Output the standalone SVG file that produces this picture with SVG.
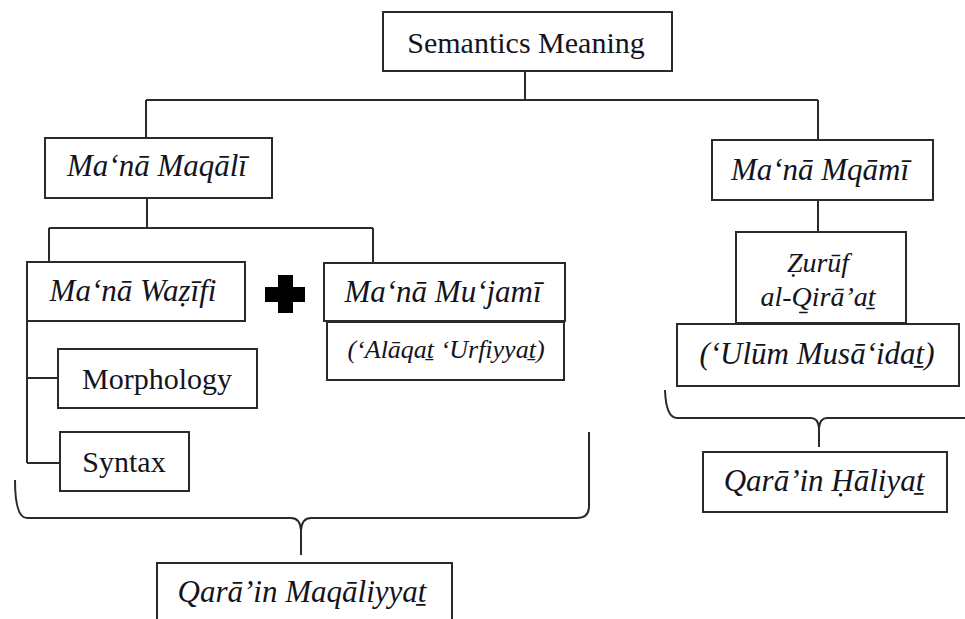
<svg xmlns="http://www.w3.org/2000/svg" width="965" height="619" viewBox="0 0 965 619">
<style>
.box{fill:#fff;stroke:#2a2a2a;stroke-width:2}
.t{font-family:"Liberation Serif","Times New Roman",serif;font-size:30px;fill:#141420;text-anchor:middle}
.i{font-style:italic;font-size:31px}
.s{font-size:26px}
.z{font-size:28px}
.c{fill:none;stroke:#2a2a2a;stroke-width:2}
</style>
<rect width="965" height="619" fill="#fff"/>
<g id="connectors">
<path class="c" d="M525,71 V100 M146,100 H818 M146,100 V138 M818,100 V140"/>
<path class="c" d="M147,198 V228 M49,228 H373 M49,228 V262 M373,228 V263"/>
<path class="c" d="M818,200 V232"/>
<path class="c" d="M27,321 V463 M27,378 H58 M27,463 H60"/>
<path class="c" d="M15,480 Q15,518 27,518 L291,518 Q300,518 301,530 L301,555 M589,432 L589,506 Q589,518 577,518 L311,518 Q302,518 301,530"/>
<path class="c" d="M665,390 Q666,418 677,418 L811,418 Q818,418 819,428 L819,447 M967,418 L827,418 Q820,418 819,428"/>
</g>
<g id="n-semantics"><rect class="box" x="383" y="12" width="289" height="59"/><text class="t" x="526" y="53" font-size="31">Semantics Meaning</text></g>
<g id="n-maqali"><rect class="box" x="45" y="138" width="227" height="60"/><text class="t i" x="157" y="176">Ma‘nā Maqālī</text></g>
<g id="n-mqami"><rect class="box" x="712" y="140" width="221" height="60"/><text class="t i" x="820" y="180">Ma‘nā Mqāmī</text></g>
<g id="n-wazifi"><rect class="box" x="27" y="262" width="218" height="59"/><text class="t i" x="133" y="301">Ma‘nā Waẓīfi</text></g>
<g id="n-plus"><path d="M278,275 H293 V287 H305 V302 H293 V313 H278 V302 H265 V287 H278 Z" fill="#000"/></g>
<g id="n-mujami"><rect class="box" x="324" y="263" width="241" height="58"/><text class="t i" x="443" y="302">Ma‘nā Mu‘jamī</text></g>
<g id="n-alaqat"><rect class="box" x="327" y="322" width="237" height="58"/><text class="t i s" x="446" y="358">(‘Alāqaṯ ‘Urfiyyaṯ)</text></g>
<g id="n-morphology"><rect class="box" x="58" y="349" width="199" height="59"/><text class="t" x="157" y="389">Morphology</text></g>
<g id="n-syntax"><rect class="box" x="60" y="432" width="129" height="59"/><text class="t" x="124" y="472">Syntax</text></g>
<g id="n-zuruf"><rect class="box" x="736" y="232" width="170" height="91"/><text class="t i z" x="818" y="272">Ẓurūf</text><text class="t i z" x="818" y="306">al-Q̱irā’aṯ</text></g>
<g id="n-ulum"><rect class="box" x="677" y="324" width="282" height="62"/><text class="t i" x="817" y="364">(‘Ulūm Musā‘idaṯ)</text></g>
<g id="n-haliyat"><rect class="box" x="703" y="452" width="244" height="60"/><text class="t i" x="824" y="491">Qarā’in Ḥāliyaṯ</text></g>
<g id="n-maqaliyyat"><rect class="box" x="157" y="563" width="295" height="80"/><text class="t i" x="302" y="602">Qarā’in Maqāliyyaṯ</text></g>
</svg>
